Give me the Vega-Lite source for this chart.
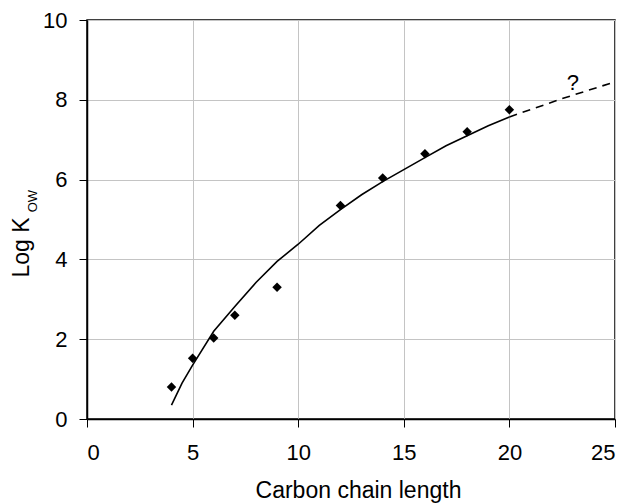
{
  "$schema": "https://vega.github.io/schema/vega-lite/v6.json",
  "autosize": {"type": "none"},
  "width": 528,
  "height": 399,
  "padding": {"left": 87, "top": 20, "right": 15, "bottom": 84},
  "background": "white",
  "config": {
    "font": "Liberation Sans",
    "view": {"stroke": "#000000", "strokeWidth": 1.5},
    "axis": {
      "domainColor": "#000000",
      "domainWidth": 1.5,
      "tickColor": "#000000",
      "tickSize": 8,
      "gridColor": "#c4c4c4",
      "gridWidth": 1,
      "labelFont": "Liberation Sans",
      "labelFontSize": 22,
      "labelColor": "#000000",
      "titleFont": "Liberation Sans",
      "titleFontSize": 23,
      "titleFontWeight": "normal",
      "titleColor": "#000000"
    }
  },
  "datasets": {
    "measured": [
      {"carbon": 4, "logkow": 0.8},
      {"carbon": 5, "logkow": 1.52},
      {"carbon": 6, "logkow": 2.03},
      {"carbon": 7, "logkow": 2.6},
      {"carbon": 9, "logkow": 3.3},
      {"carbon": 12, "logkow": 5.35},
      {"carbon": 14, "logkow": 6.04},
      {"carbon": 16, "logkow": 6.65},
      {"carbon": 18, "logkow": 7.2},
      {"carbon": 20, "logkow": 7.75}
    ],
    "fit": [
      {"carbon": 4, "logkow": 0.35},
      {"carbon": 4.5, "logkow": 0.9},
      {"carbon": 5, "logkow": 1.35},
      {"carbon": 6, "logkow": 2.2},
      {"carbon": 7, "logkow": 2.82},
      {"carbon": 8, "logkow": 3.42},
      {"carbon": 9, "logkow": 3.95},
      {"carbon": 10, "logkow": 4.38},
      {"carbon": 11, "logkow": 4.85},
      {"carbon": 12, "logkow": 5.25},
      {"carbon": 13, "logkow": 5.62},
      {"carbon": 14, "logkow": 5.95},
      {"carbon": 15, "logkow": 6.25},
      {"carbon": 16, "logkow": 6.55},
      {"carbon": 17, "logkow": 6.85},
      {"carbon": 18, "logkow": 7.1},
      {"carbon": 19, "logkow": 7.35},
      {"carbon": 20, "logkow": 7.57}
    ],
    "extrapolated": [
      {"carbon": 20, "logkow": 7.57},
      {"carbon": 22.5, "logkow": 8.03},
      {"carbon": 25, "logkow": 8.45}
    ],
    "annotation": [
      {"carbon": 23, "logkow": 8.25, "label": "?"}
    ],
    "subscript": [
      {"carbon": -2.58, "logkow": 5.46, "label": "OW"}
    ]
  },
  "layer": [
    {
      "data": {"name": "fit"},
      "mark": {"type": "line", "color": "#000000", "strokeWidth": 1.6},
      "encoding": {
        "x": {
          "field": "carbon", "type": "quantitative",
          "scale": {"domain": [0, 25], "nice": false},
          "axis": {"values": [0, 5, 10, 15, 20, 25], "title": "Carbon chain length", "labelPadding": 15, "titleX": 271, "titleY": 60, "titleAlign": "center", "titleBaseline": "top"}
        },
        "y": {
          "field": "logkow", "type": "quantitative",
          "scale": {"domain": [0, 10], "nice": false},
          "axis": {"values": [0, 2, 4, 6, 8, 10], "title": "Log K", "labelPadding": 12, "titleX": -59, "titleY": 227, "titleAngle": 270, "titleAlign": "center", "titleBaseline": "alphabetic"}
        }
      }
    },
    {
      "data": {"name": "extrapolated"},
      "mark": {"type": "line", "color": "#000000", "strokeWidth": 1.6, "strokeDash": [8, 6]},
      "encoding": {
        "x": {"field": "carbon", "type": "quantitative"},
        "y": {"field": "logkow", "type": "quantitative"}
      }
    },
    {
      "data": {"name": "measured"},
      "mark": {"type": "point", "shape": "diamond", "filled": true, "color": "#000000", "opacity": 1, "size": 90},
      "encoding": {
        "x": {"field": "carbon", "type": "quantitative"},
        "y": {"field": "logkow", "type": "quantitative"}
      }
    },
    {
      "data": {"name": "annotation"},
      "mark": {"type": "text", "fontSize": 22, "color": "#000000", "baseline": "alphabetic", "align": "center"},
      "encoding": {
        "x": {"field": "carbon", "type": "quantitative"},
        "y": {"field": "logkow", "type": "quantitative"},
        "text": {"field": "label"}
      }
    },
    {
      "data": {"name": "subscript"},
      "mark": {"type": "text", "fontSize": 13, "color": "#000000", "angle": 270, "clip": false, "align": "center", "baseline": "middle"},
      "encoding": {
        "x": {"field": "carbon", "type": "quantitative"},
        "y": {"field": "logkow", "type": "quantitative"},
        "text": {"field": "label"}
      }
    }
  ]
}
